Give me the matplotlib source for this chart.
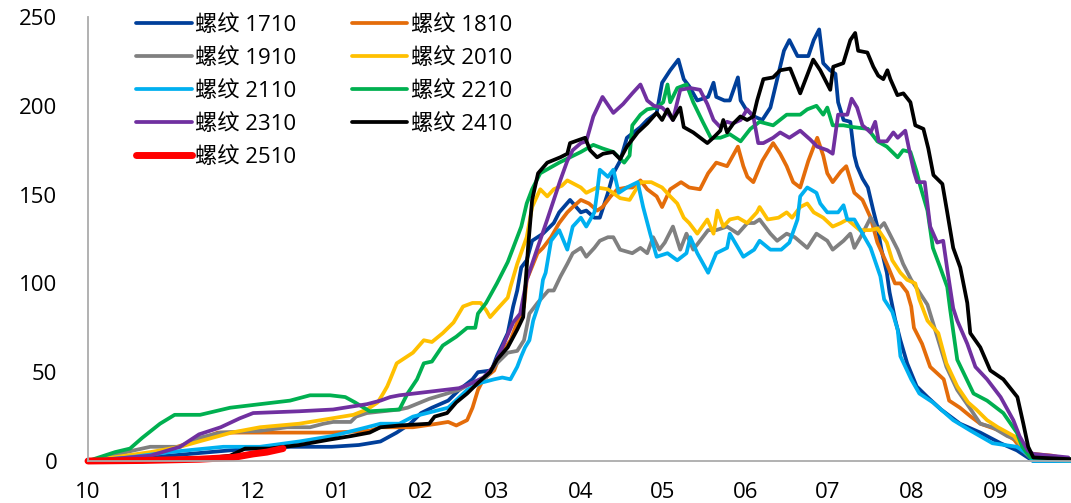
import matplotlib
matplotlib.use("Agg")
import matplotlib.pyplot as plt

# days counted from 1 Oct of the contract's first year, values read per series
d_1710 = [0, 15, 30, 45, 60, 75, 90, 100, 108, 114, 119, 123, 127, 133, 137, 142, 144, 149, 151, 155, 157, 158.5,
          160, 162, 164, 168, 172, 174, 178, 182, 184, 187, 189, 192, 194, 196.5, 199, 204, 206.5, 210, 212, 215, 218,
          220, 222, 225, 229, 231, 232, 235, 237, 240, 241, 243, 246, 249, 252, 254.5, 257, 259, 262, 266, 268, 270,
          271.5, 274, 276, 277, 279, 281.5, 283, 284, 286, 288, 290, 291.5, 293, 295, 296, 298, 300, 302.5, 306, 310,
          315, 322, 329.5, 337, 343, 347, 349, 363]
v_1710 = [0, 1, 3, 5, 7, 8, 8, 9, 11, 16, 21, 27, 30, 34, 40, 46, 50, 51, 59, 72, 87, 96,
          109, 113, 124, 128, 134, 140, 147, 140, 141, 137, 137, 151, 162, 169, 182, 188, 192, 196, 213, 220, 226,
          215, 211, 203, 205, 213, 205, 203, 203, 216, 203, 198, 194, 192, 199, 215, 231, 237, 228, 228, 237, 243,
          224, 220, 218, 202, 192, 191, 172, 166, 159, 154, 141, 132, 119, 106, 95, 80, 68, 55, 42, 36,
          29, 21, 16, 10, 6, 2, 0, 0]

d_1810 = [0, 17, 29, 39, 48, 60, 78, 90, 104, 108, 120, 129, 133, 136, 140, 142, 144, 146, 150, 152, 156, 158.5,
          161, 162, 166, 168, 171, 174, 177, 179, 182, 185, 188, 190, 193, 195.5, 199, 201, 204, 206.5, 210, 212, 215,
          219, 222, 226, 229, 232, 236, 240, 242, 243.5, 245.7, 249, 253, 255.6, 258, 260.4, 263, 266, 268, 269.3,
          271.5, 273, 275, 278, 280, 283, 286, 289, 291.5, 295, 298, 300, 302.5, 304, 305, 308, 311, 316, 318, 322,
          326, 329.5, 337, 342, 345, 349, 356, 362]
v_1810 = [0, 2, 6, 11, 16, 16, 16, 16, 17, 19, 19, 21, 22, 20, 23, 30, 40, 46, 51, 59, 68, 78,
          87, 102, 117, 120, 126, 134, 140, 143, 147, 145, 141, 143, 149, 153, 154, 154, 158, 153, 149, 143, 153,
          157, 154, 153, 162, 168, 166, 177, 166, 160, 157, 169, 179, 173, 166, 157, 154, 169, 177,
          182, 172, 162, 157, 163, 166, 151, 147, 137, 123, 111, 100, 100, 95, 87, 75, 66, 53, 46, 34, 30,
          25, 21, 17, 12, 6, 4, 3, 1]

d_1910 = [0, 17, 23, 34, 41, 49, 63.5, 73.5, 82, 87, 90.5, 97, 99, 103, 115, 118, 126, 137, 142, 147, 151, 155,
          158.5, 161, 163, 166, 170, 172, 174.5, 177, 179, 182, 184, 187, 189, 192, 194, 196.5, 201, 204, 206.5,
          208.7, 211, 213, 216, 218.7, 221, 223.5, 226, 229, 232, 236, 240, 243.5, 246, 248, 252, 254.5, 258, 261,
          265.6, 269, 271, 273, 275, 279, 281.5, 283, 286, 289, 291.5, 294, 296, 299, 301, 304, 307, 310, 314, 317,
          321, 326, 329.5, 334, 339.5, 343, 345, 348, 363]
v_1910 = [0, 6, 8, 8, 13, 16, 17, 19, 19, 21, 22, 22, 25, 27, 29, 30, 35, 40, 44, 47, 55, 61,
          62, 68, 83, 89, 96, 96, 104, 111, 117, 120, 115, 120, 124, 126, 126, 119, 117, 120, 117,
          126, 119, 123, 132, 119, 128, 119, 124, 130, 130, 132, 128, 134, 134, 136, 128, 124, 128, 126,
          120, 128, 126, 124, 119, 124, 128, 120, 128, 137, 130, 134, 128, 119, 111, 102, 95, 88, 68, 53,
          40, 29, 21, 19, 14, 12, 6, 2, 0]

d_2010 = [0, 23, 34, 41, 53, 63.5, 78, 90, 98, 103, 107, 109, 110.5, 111.6, 114, 118, 120, 124, 127, 131, 135,
          138.5, 142, 145, 147, 148.5, 152, 155, 156, 158.5, 162, 164, 167, 169.6, 172, 175, 177, 182, 184, 188,
          192, 196.5, 200, 204, 208, 212, 215, 217.6, 220, 222, 225, 228.7, 231, 232.4, 234.6, 237, 240, 243.4, 247,
          248, 251, 255, 258, 260, 263, 265.6, 268, 271.5, 275, 278, 280.4, 285, 289, 291.5, 295, 297, 300, 302.5,
          305.5, 307, 310, 314, 317, 321, 325, 328, 332, 336, 342, 344, 347, 350, 363]
v_2010 = [0, 5, 8, 11, 16, 19, 21, 24, 26, 29, 33, 38, 42, 46, 55, 59, 61, 68, 67, 72, 78,
          87, 89, 89, 85, 81, 87, 92, 98, 111, 126, 143, 153, 149, 153, 155, 158, 154, 151, 154,
          153, 148, 147, 157, 157, 154, 149, 145, 137, 134, 128, 136, 128, 141, 132, 136, 137, 134, 140,
          143, 136, 137, 140, 137, 143, 145, 140, 137, 132, 134, 136, 130, 130, 131, 123, 113, 106, 102,
          100, 91, 79, 72, 55, 42, 33, 29, 23, 19, 14, 10, 4, 1, 0]

d_2110 = [0, 15, 30, 50, 63.5, 78, 90, 103, 108, 115, 120, 133, 140, 145, 150, 153, 156, 158.5, 160, 161.4, 163,
          164.4, 167, 168, 169, 171, 174, 177, 179, 182, 184, 187, 188, 189, 192, 194, 196, 199, 203, 205, 207.6,
          210, 214, 217.6, 221, 222.4, 225, 229, 232, 236, 237, 242, 246, 248, 252, 256, 259, 262, 263, 265.6, 269,
          270.4, 273, 277, 279, 280.4, 283, 286, 289, 292.6, 294, 297, 299, 300, 304, 307, 312, 319.5, 326, 334,
          343, 347, 349, 363]
v_2110 = [0, 2, 5, 8, 8, 11, 14, 19, 21, 21, 25, 30, 40, 44, 46, 47, 46, 53, 59, 64, 68,
          79, 91, 102, 106, 124, 130, 119, 132, 137, 132, 140, 151, 164, 160, 164, 151, 154, 157, 143, 128,
          115, 117, 113, 117, 126, 117, 106, 117, 120, 128, 115, 119, 124, 119, 119, 123, 136, 149, 154, 151,
          145, 140, 140, 144, 136, 136, 128, 120, 104, 91, 84, 74, 59, 46, 38, 33, 23, 17, 10,
          8, 4, 0, 0]

d_2210 = [0, 10, 15.5, 20, 26.6, 32, 41.4, 52.5, 63.5, 74.6, 82, 89.4, 95, 98.6, 104, 115, 118, 121.5, 124, 127,
          131, 136, 140, 143, 144, 147, 151, 155, 157, 160, 162, 164, 167, 174, 182, 186.6, 190, 194, 198, 200, 201,
          204, 206.5, 210, 212.4, 214, 215, 217.6, 221, 223.5, 227, 230, 233.5, 237, 241, 244.6, 248, 253, 258, 263,
          265.6, 269, 271.5, 273, 275, 279, 282.6, 288, 291.5, 295, 299, 301, 303.7, 306, 307.3, 310, 312, 314.7,
          317.3, 318.4, 321, 327, 332, 338, 343, 345, 348, 363]
v_2210 = [0, 5, 7, 13, 21, 26, 26, 30, 32, 34, 37, 37, 36, 33, 28, 29, 38, 46, 55, 56,
          65, 70, 75, 75, 83, 89, 100, 112, 120, 132, 145, 153, 162, 168, 174, 178, 176, 174, 168, 172, 189,
          195, 198, 199, 202, 212, 202, 210, 212, 202, 191, 182, 182, 184, 180, 187, 191, 189, 195, 195,
          198, 200, 195, 199, 189, 189, 188, 187, 180, 177, 171, 175, 174, 163, 155, 141, 120, 109,
          98, 85, 57, 38, 34, 27, 16, 8, 2, 1]

d_2310 = [0, 23, 34, 41, 49, 56, 61, 78, 90.5, 103, 108, 111.6, 115, 126, 137, 142, 146, 149.6, 153, 157, 159.6,
          162, 166, 169.6, 172, 174.4, 177, 179, 182, 184, 186.6, 190, 194, 197.6, 201, 204, 206.5, 209, 212, 214,
          216, 218.7, 222.4, 226, 228.7, 231, 233.5, 236, 238, 241, 243.4, 245.7, 247.5, 249.4, 253, 255.6, 259, 263,
          266.7, 269.3, 273, 275, 277, 280.4, 282, 284, 286, 289, 290.7, 292, 295, 297.4, 299, 301.8, 303.7, 305,
          306.2, 309, 311, 313.6, 315.8, 317.3, 319.5, 321, 324.7, 327.7, 332, 337, 341.7, 344, 347, 349, 362]
v_2310 = [0, 3, 8, 15, 19, 24, 27, 28, 29, 32, 34, 36, 37, 39, 41, 44, 47, 53, 64, 78, 83,
          102, 120, 136, 147, 158, 169, 175, 179, 180, 194, 205, 196, 201, 207, 212, 203, 200, 199, 196,
          192, 209, 210, 209, 201, 192, 188, 191, 190, 192, 198, 194, 179, 179, 182, 185, 182, 186,
          181, 177, 175, 173, 195, 195, 204, 199, 189, 185, 191, 180, 180, 185, 182, 186, 172, 163,
          157, 157, 132, 123, 124, 108, 86, 79, 66, 53, 46, 36, 23, 14, 6, 4, 2]

d_2410 = [0, 20, 41, 52.5, 58, 67, 78, 89, 97, 104, 108, 115, 126, 128, 132.6, 136, 140, 144, 148.5, 151, 155,
          158.5, 160.7, 162.5, 164, 166.2, 169.6, 174.4, 177, 178, 181.7, 183.6, 185.4, 188, 190.2, 193.9, 196.5,
          199, 203, 206.5, 210, 212, 214, 216, 218.7, 220, 223.5, 228.7, 230.9, 233.5, 234.6, 236, 238.3, 240.9,
          243.4, 245.7, 247.1, 249.4, 253, 255.6, 259.3, 263, 267.8, 270.4, 274.1, 275.2, 278.9, 281.5, 283.3, 284.4,
          287.8, 290, 291.8, 293.7, 295.2, 296.3, 298.9, 301.1, 303.7, 305.5, 308.5, 310.3, 312.2, 315.5, 317.3,
          319.5, 322.1, 324.7, 325.8, 329.5, 333.2, 338, 343.2, 345.4, 347.2, 349.1, 363]
v_2410 = [0, 0.5, 1, 3, 7, 7, 9, 12, 14, 16, 19, 20, 21, 25, 27, 33, 38, 44, 50, 57, 64,
          74, 81, 120, 147, 162, 168, 171, 173, 179, 181, 182, 175, 171, 173, 174, 170,
          177, 185, 190, 196, 192, 198, 192, 199, 188, 185, 179, 182, 186, 192, 185, 190, 194,
          192, 194, 203, 215, 216, 220, 221, 207, 226, 220, 209, 222, 224, 237, 241, 231,
          230, 222, 217, 215, 220, 215, 206, 207, 202, 189, 187, 176, 161, 156, 140,
          120, 109, 89, 72, 64, 51, 46, 36, 21, 8, 2, 1]

d_2510 = [0, 20, 41, 53.6, 61, 66, 72]
v_2510 = [0, 0.3, 1, 2, 4, 5, 7]

names = ["螺纹 1710", "螺纹 1810", "螺纹 1910", "螺纹 2010", "螺纹 2110",
         "螺纹 2210", "螺纹 2310", "螺纹 2410", "螺纹 2510"]
colors = ["#003F9A", "#E46C0A", "#808080", "#FFC000", "#00B0F0",
          "#00B050", "#7030A0", "#000000", "#FF0000"]
month_days = [0, 31, 61, 92, 123, 151, 182, 212, 243, 273, 304, 335]
month_labels = ["10", "11", "12", "01", "02", "03", "04", "05", "06", "07", "08", "09"]

series = [(d_1710, v_1710), (d_1810, v_1810), (d_1910, v_1910), (d_2010, v_2010), (d_2110, v_2110),
          (d_2210, v_2210), (d_2310, v_2310), (d_2410, v_2410), (d_2510, v_2510)]

plt.rcParams["font.family"] = ["Open Sans", "Noto Sans CJK SC", "DejaVu Sans"]

fig = plt.figure(figsize=(10.71, 5.03), dpi=100)
ax = fig.add_axes([88 / 1071, 42 / 503, 983 / 1071, 444 / 503])

handles = []
for (days, vals), name, col in zip(series, names, colors):
    lw = 5 if name.endswith("2510") else 2.7
    ln, = ax.plot(days, vals, color=col, lw=lw, label=name, clip_on=False,
                  solid_joinstyle="round", solid_capstyle="round")
    handles.append(ln)

ax.set_xlim(0, 363)
ax.set_ylim(0, 250)
ax.set_yticks([0, 50, 100, 150, 200, 250])
ax.set_xticks(month_days)
ax.set_xticklabels(month_labels)
ax.tick_params(length=0, labelsize=16)
ax.tick_params(axis="y", pad=22)
ax.tick_params(axis="x", pad=15)
for side in ["top", "right"]:
    ax.spines[side].set_visible(False)
for side in ["left", "bottom"]:
    ax.spines[side].set_color("#ABABAB")
    ax.spines[side].set_linewidth(1.3)

# two columns, filled row by row
order = [0, 2, 4, 6, 8, 1, 3, 5, 7]
fig.legend([handles[i] for i in order], [names[i] for i in order], ncol=2,
           loc="upper left", bbox_to_anchor=(136 / 1071, 1 - 15 / 503),
           frameon=False, fontsize=16, handlelength=2.5, handletextpad=0.15,
           columnspacing=2.5, labelspacing=0.54, borderpad=0, borderaxespad=0)

fig.savefig("out.png", dpi=100)
